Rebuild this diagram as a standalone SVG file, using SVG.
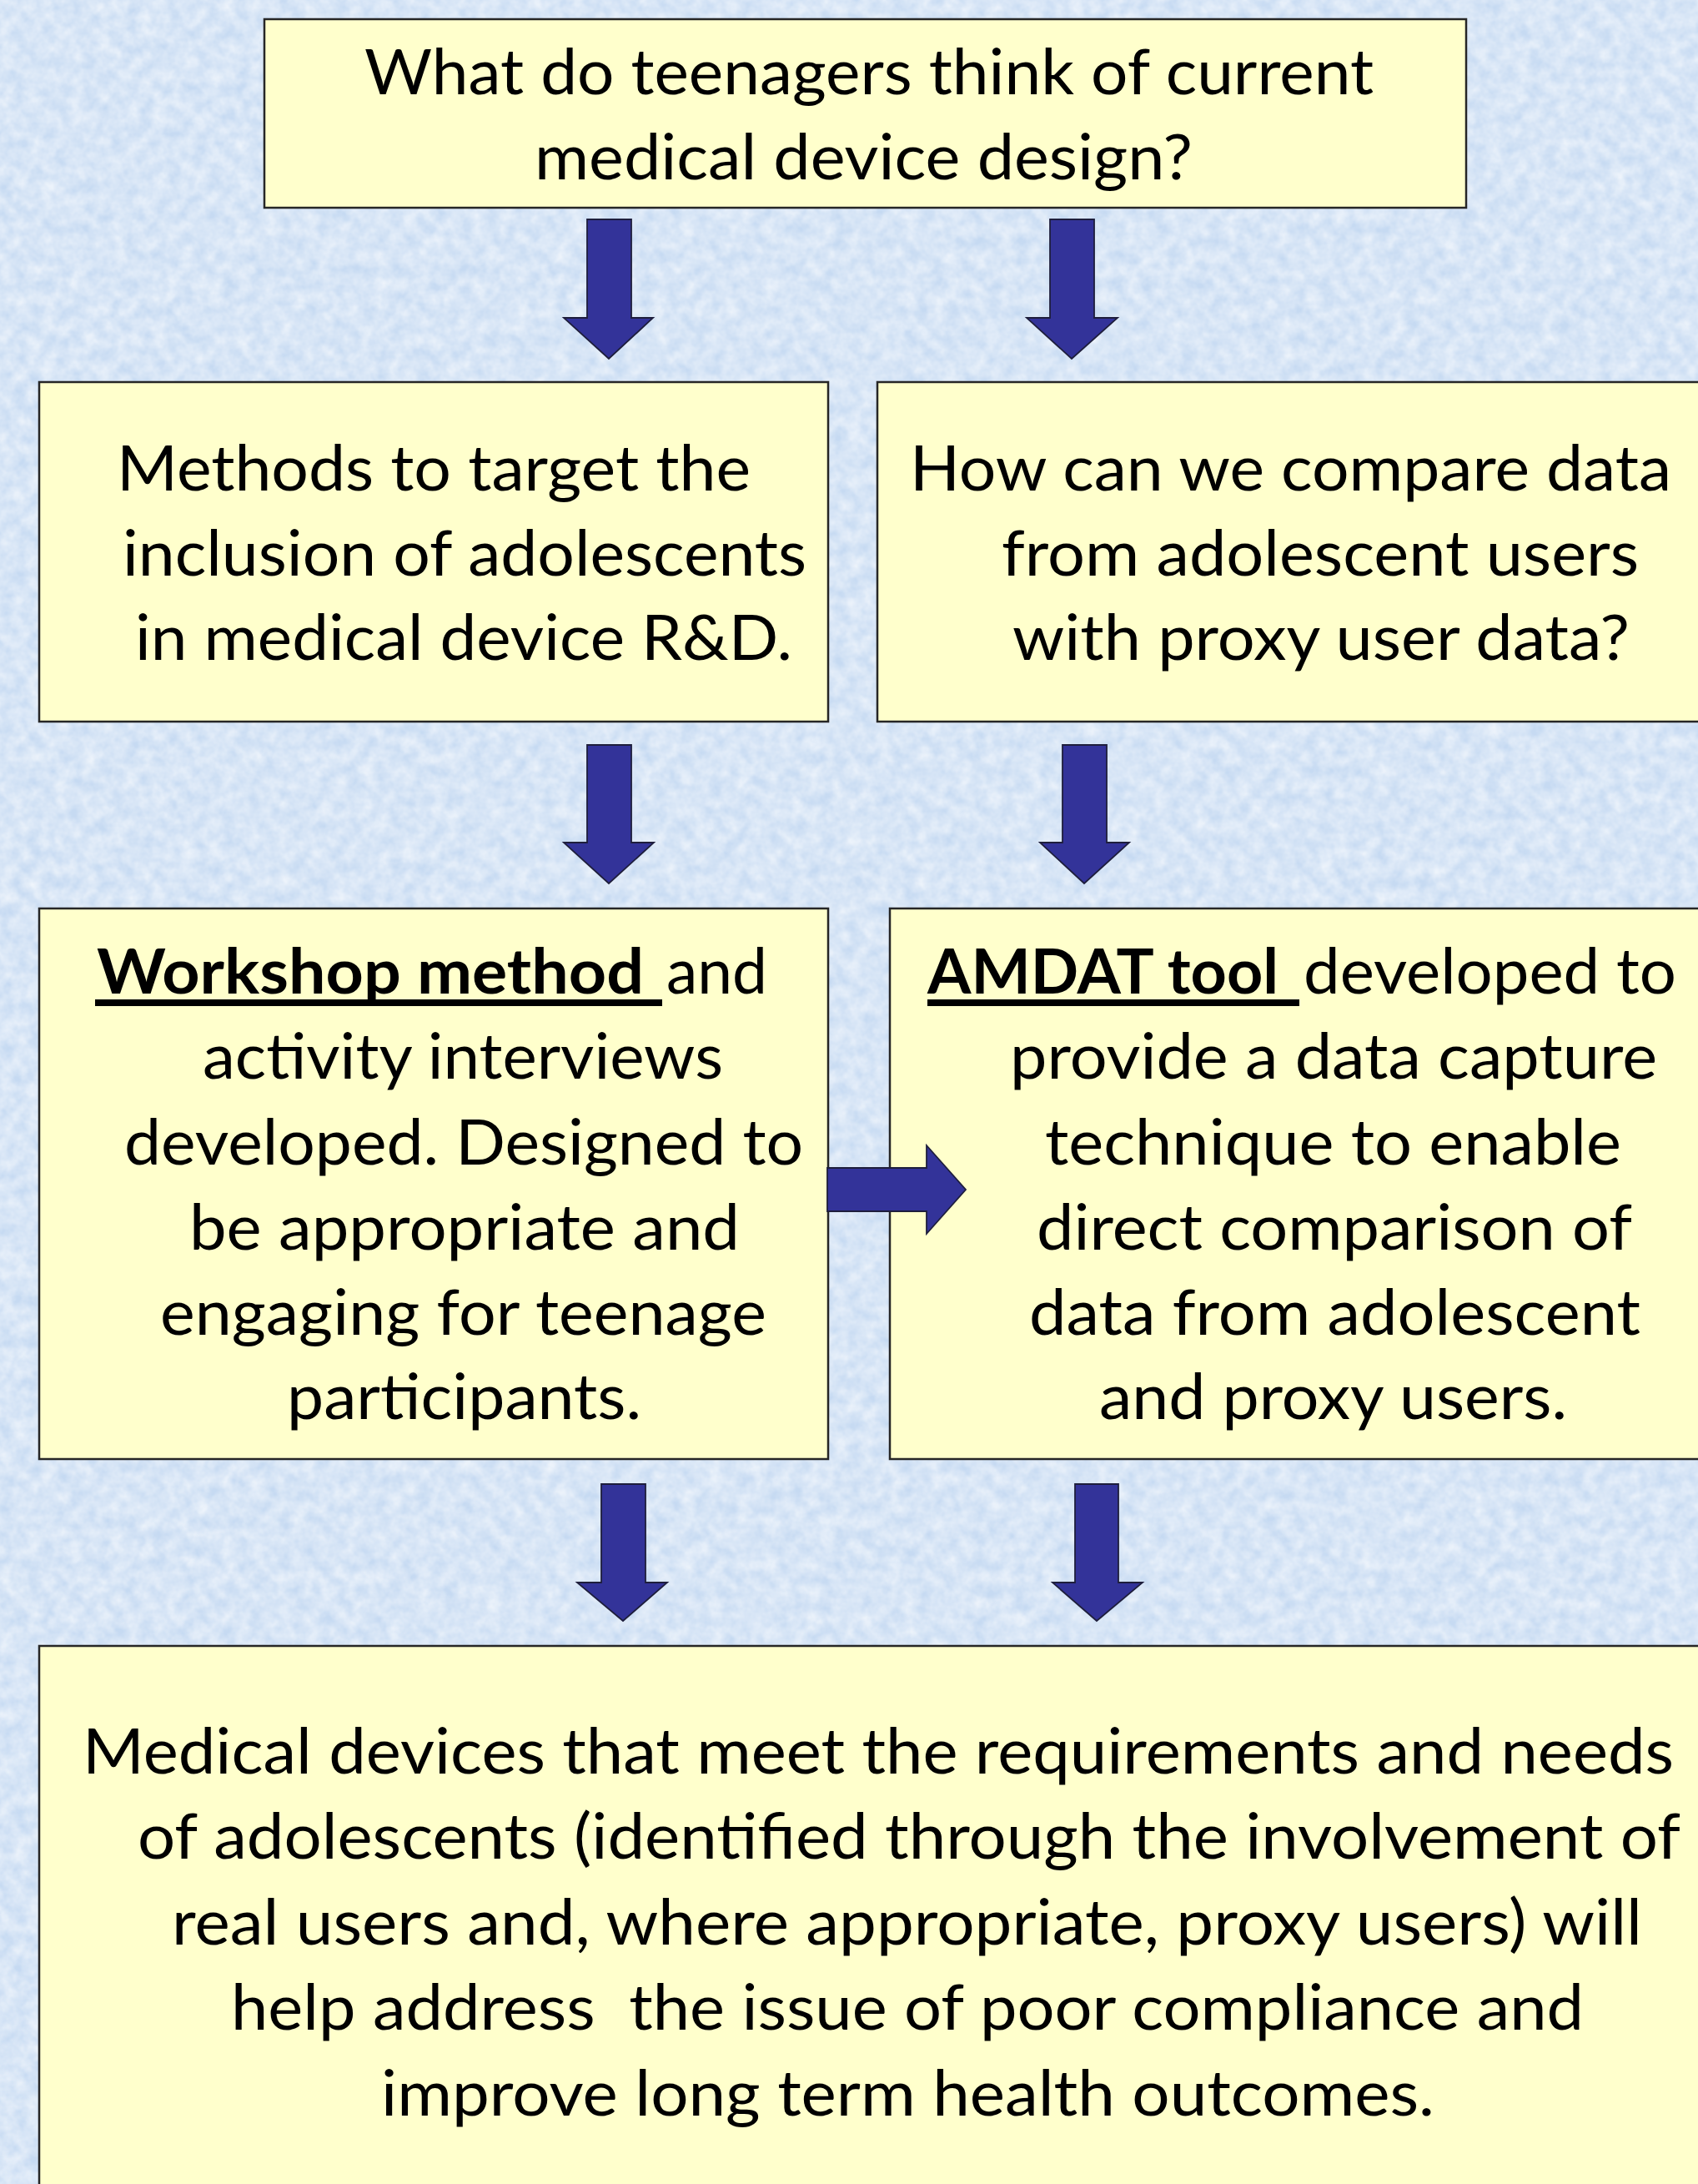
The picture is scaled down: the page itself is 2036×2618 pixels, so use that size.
<svg xmlns="http://www.w3.org/2000/svg" width="2036" height="2618" viewBox="0 0 2036 2618">
  <style>
    .box { fill: #ffffcc; stroke: #262626; stroke-width: 2.5; }
    .arrow { fill: #333399; stroke: #1e1e3c; stroke-width: 1.8; stroke-linejoin: miter; }
    .t { font-family: Lato, "Open Sans", "Liberation Sans", sans-serif; font-size: 75px; fill: #000; white-space: pre; }
    .b { font-weight: 700; }
    .ul { fill: #000; }
  </style>
  <defs>
    <filter id="paper" x="0" y="0" width="100%" height="100%" filterUnits="userSpaceOnUse">
      <feTurbulence type="fractalNoise" baseFrequency="0.06" numOctaves="3" seed="7" result="n"/>
      <feColorMatrix in="n" type="matrix" values="0 0 0 0 1  0 0 0 0 1  0 0 0 0 1  0.9 0 0 0 -0.14"/>
    </filter>
  </defs>

  <!-- textured pale blue background -->
  <rect x="0" y="0" width="2036" height="2618" fill="#c6daf2"/>
  <rect x="0" y="0" width="2036" height="2618" filter="url(#paper)"/>

  <!-- connectors -->
  <g id="connectors">
    <path class="arrow" d="M704,263 H757 V381 H783 L730,430 L676,381 H704 Z"/>
    <path class="arrow" d="M1259,263 H1312 V381 H1340 L1285,430 L1231,381 H1259 Z"/>
    <path class="arrow" d="M704,893 H757 V1010 H784 L730,1059 L676,1010 H704 Z"/>
    <path class="arrow" d="M1274,893 H1327 V1010 H1354 L1300,1059 L1247,1010 H1274 Z"/>
    <path class="arrow" d="M721,1779 H774 V1897 H800 L747,1943 L692,1897 H721 Z"/>
    <path class="arrow" d="M1289,1779 H1341 V1897 H1370 L1315,1943 L1262,1897 H1289 Z"/>
  </g>

  <g id="node-question">
    <rect class="box" x="317" y="23" width="1441" height="226"/>
    <text class="t" x="437" y="113" textLength="1210" lengthAdjust="spacingAndGlyphs">What do teenagers think of current</text>
    <text class="t" x="641" y="215" textLength="789" lengthAdjust="spacingAndGlyphs">medical device design?</text>
  </g>

  <g id="node-methods">
    <rect class="box" x="47" y="458" width="946" height="407"/>
    <text class="t" x="140" y="588" textLength="760" lengthAdjust="spacingAndGlyphs">Methods to target the</text>
    <text class="t" x="147" y="690" textLength="820" lengthAdjust="spacingAndGlyphs">inclusion of adolescents</text>
    <text class="t" x="162" y="791" textLength="788" lengthAdjust="spacingAndGlyphs">in medical device R&amp;D.</text>
  </g>

  <g id="node-compare">
    <rect class="box" x="1052" y="458" width="1000" height="407"/>
    <text class="t" x="1091" y="588" textLength="913" lengthAdjust="spacingAndGlyphs">How can we compare data</text>
    <text class="t" x="1201" y="690" textLength="764" lengthAdjust="spacingAndGlyphs">from adolescent users</text>
    <text class="t" x="1214" y="791" textLength="740" lengthAdjust="spacingAndGlyphs">with proxy user data?</text>
  </g>

  <g id="node-workshop">
    <rect class="box" x="47" y="1089" width="946" height="660"/>
    <text class="t b" x="116" y="1191" textLength="656" lengthAdjust="spacingAndGlyphs">Workshop method</text>
    <rect class="ul" x="114" y="1198" width="680" height="8"/>
    <text class="t" x="799" y="1191" textLength="121" lengthAdjust="spacingAndGlyphs">and</text>
    <text class="t" x="243" y="1293" textLength="624" lengthAdjust="spacingAndGlyphs">activity interviews</text>
    <text class="t" x="149" y="1396" textLength="814" lengthAdjust="spacingAndGlyphs">developed. Designed to</text>
    <text class="t" x="227" y="1498" textLength="660" lengthAdjust="spacingAndGlyphs">be appropriate and</text>
    <text class="t" x="192" y="1600" textLength="727" lengthAdjust="spacingAndGlyphs">engaging for teenage</text>
    <text class="t" x="344" y="1701" textLength="425" lengthAdjust="spacingAndGlyphs">participants.</text>
  </g>

  <g id="node-amdat">
    <rect class="box" x="1067" y="1089" width="1000" height="660"/>
    <text class="t b" x="1112" y="1191" textLength="421" lengthAdjust="spacingAndGlyphs">AMDAT tool</text>
    <rect class="ul" x="1112" y="1198" width="446" height="8"/>
    <text class="t" x="1563" y="1191" textLength="447" lengthAdjust="spacingAndGlyphs">developed to</text>
    <text class="t" x="1211" y="1293" textLength="776" lengthAdjust="spacingAndGlyphs">provide a data capture</text>
    <text class="t" x="1253" y="1396" textLength="691" lengthAdjust="spacingAndGlyphs">technique to enable</text>
    <text class="t" x="1243" y="1498" textLength="714" lengthAdjust="spacingAndGlyphs">direct comparison of</text>
    <text class="t" x="1234" y="1600" textLength="733" lengthAdjust="spacingAndGlyphs">data from adolescent</text>
    <text class="t" x="1318" y="1701" textLength="561" lengthAdjust="spacingAndGlyphs">and proxy users.</text>
  </g>

  <!-- sideways link from workshop to AMDAT, drawn over both boxes -->
  <g id="connector-side">
    <path class="arrow" d="M992,1400 H1111 V1373 L1158,1426 L1111,1479 V1452 H992 Z"/>
  </g>

  <g id="node-outcome">
    <rect class="box" x="47" y="1973" width="2010" height="700"/>
    <text class="t" x="99" y="2126" textLength="1908" lengthAdjust="spacingAndGlyphs">Medical devices that meet the requirements and needs</text>
    <text class="t" x="165" y="2228" textLength="1850" lengthAdjust="spacingAndGlyphs">of adolescents (identified through the involvement of</text>
    <text class="t" x="206" y="2331" textLength="1763" lengthAdjust="spacingAndGlyphs">real users and, where appropriate, proxy users) will</text>
    <text class="t" x="277" y="2433" textLength="1622" lengthAdjust="spacingAndGlyphs">help address  the issue of poor compliance and</text>
    <text class="t" x="457" y="2536" textLength="1263" lengthAdjust="spacingAndGlyphs">improve long term health outcomes.</text>
  </g>
</svg>
